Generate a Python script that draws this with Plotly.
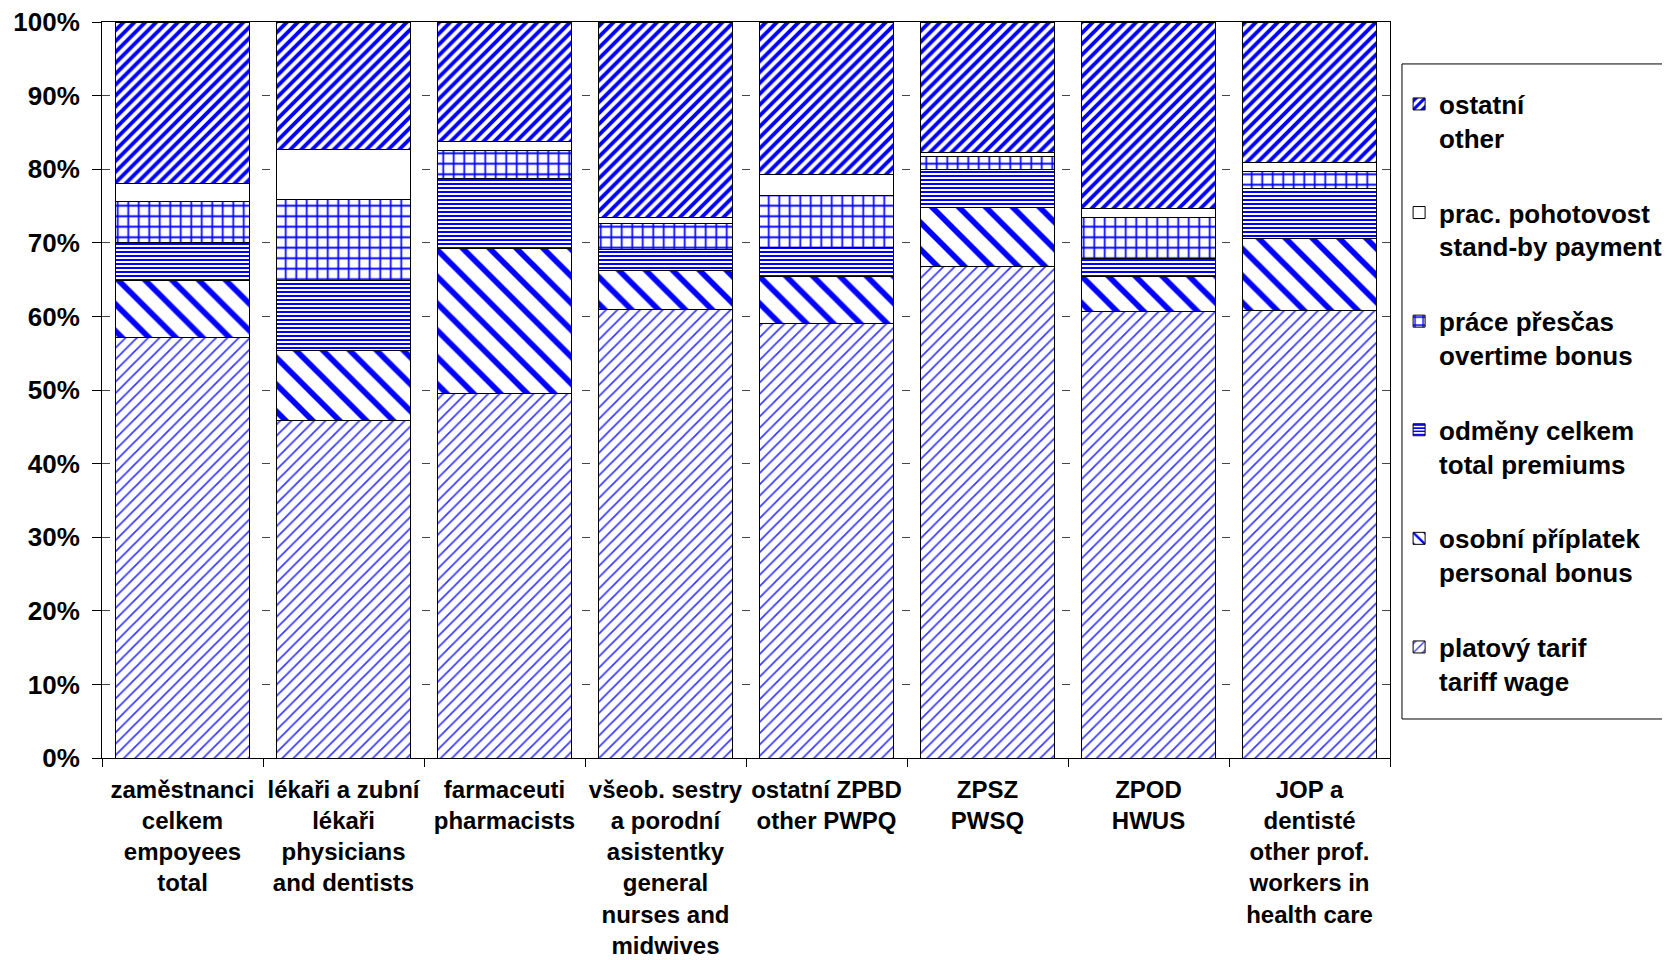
import plotly.graph_objects as go

# kategorie zaměstnanců
kategorie = [
    "zaměstnanci<br>celkem<br>empoyees<br>total",
    "lékaři a zubní<br>lékaři<br>physicians<br>and dentists",
    "farmaceuti<br>pharmacists",
    "všeob. sestry<br>a porodní<br>asistentky<br>general<br>nurses and<br>midwives",
    "ostatní ZPBD<br>other PWPQ",
    "ZPSZ<br>PWSQ",
    "ZPOD<br>HWUS",
    "JOP a<br>dentisté<br>other prof.<br>workers in<br>health care",
]

# složky platu v %
platovy_tarif = [57.2, 45.8, 49.5, 60.9, 59.0, 66.8, 60.6, 60.8]
osobni_priplatek = [7.7, 9.6, 19.7, 5.3, 6.4, 8.0, 4.8, 9.8]
odmeny_celkem = [5.1, 9.5, 9.6, 2.9, 3.9, 5.1, 2.4, 6.8]
prace_prescas = [5.6, 11.0, 3.8, 3.5, 7.1, 1.8, 5.7, 2.3]
prac_pohotovost = [2.5, 6.8, 1.2, 0.8, 2.9, 0.6, 1.1, 1.2]
ostatni = [21.9, 17.3, 16.2, 26.6, 20.7, 17.7, 25.4, 19.1]

nazvy = [
    "platový tarif<br>tariff wage",
    "osobní příplatek<br>personal bonus",
    "odměny celkem<br>total premiums",
    "práce přesčas<br>overtime bonus",
    "prac. pohotovost<br>stand-by payment",
    "ostatní<br>other",
]
serie = [platovy_tarif, osobni_priplatek, odmeny_celkem, prace_prescas, prac_pohotovost, ostatni]

# vzory výplně
vzory = [
    dict(shape="/", size=8, solidity=0.22, fgcolor="#3a3aff"),
    dict(shape="\\", size=19, solidity=0.3, fgcolor="#0000ff"),
    dict(shape="-", size=4, solidity=0.5, fgcolor="#0000ff"),
    dict(shape="+", size=10.5, solidity=0.3, fgcolor="#0000ff"),
    dict(shape="", fgcolor="#0000ff"),
    dict(shape="/", size=7.7, solidity=0.5, fgcolor="#0000ff"),
]

fig = go.Figure()
for i, (nazev, hodnoty, vzor) in enumerate(zip(nazvy, serie, vzory)):
    fig.add_trace(go.Bar(
        x=kategorie, y=hodnoty, name=nazev, legendgroup=str(i), legendrank=100 - i,
        marker=dict(color="white", line=dict(color="black", width=1),
                    pattern=dict(bgcolor="white", fgopacity=1, **vzor)),
    ))

font_rodina = "Liberation Sans, Arial, sans-serif"

# stránka má okraj 8 px, proto je graf o 8 px menší
fig.update_layout(
    barmode="stack",
    bargap=0.17,
    width=1662, height=952,
    margin=dict(l=94, r=280, t=14, b=202),
    plot_bgcolor="white", paper_bgcolor="white",
    font=dict(family=font_rodina, color="black", weight="bold"),
    legend=dict(
        xref="container", yref="container",
        x=0.837, y=0.9238, xanchor="left", yanchor="top",
        traceorder="grouped", tracegroupgap=38, maxheight=800,
        valign="top", borderwidth=0, bgcolor="rgba(0,0,0,0)",
        font=dict(size=26, family=font_rodina, weight="bold"),
    ),
    shapes=[dict(type="rect", xref="paper", yref="paper",
                 x0=1.0093, x1=1.23, y0=0.053, y1=0.943,
                 line=dict(color="black", width=1), fillcolor="rgba(0,0,0,0)")],
)

fig.update_yaxes(
    range=[0, 100], dtick=10, ticksuffix="%", automargin=False,
    ticklabeloverflow="allow",
    tickfont=dict(size=26, family=font_rodina, weight="bold"),
    ticks="outside", ticklen=9, tickcolor="black",
    showline=True, linecolor="black", linewidth=1, mirror=True,
    showgrid=True, gridcolor="#444444", gridwidth=1, griddash="8px,12px",
    zeroline=False, ticklabelstandoff=7,
)
fig.update_xaxes(
    automargin=False, tickangle=0, ticklabeloverflow="allow",
    tickfont=dict(size=24, family=font_rodina, weight="bold"),
    ticks="outside", ticklen=8, tickcolor="black", tickson="boundaries",
    showline=True, linecolor="black", linewidth=1, mirror=True,
    ticklabelstandoff=10,
)

fig.write_html("out.html")
